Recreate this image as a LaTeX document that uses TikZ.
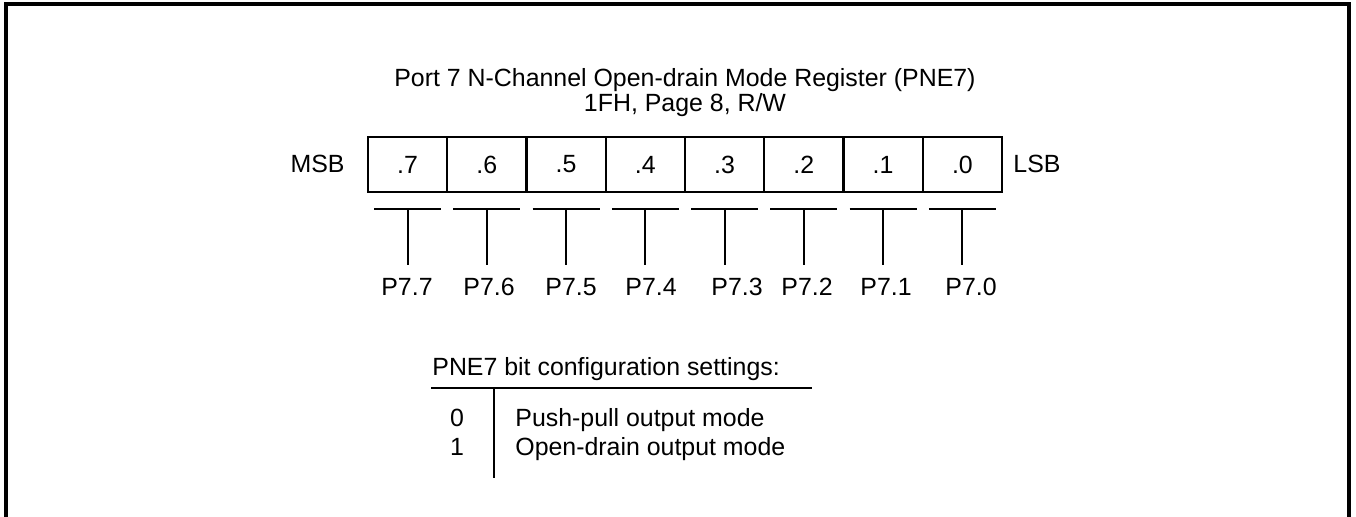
\documentclass[tikz,border=0pt]{standalone}
\usepackage{fontspec}
\setmainfont{Liberation Sans}
\usetikzlibrary{positioning,calc}

\begin{document}
\begin{tikzpicture}[
    x=0.5pt, y=-0.5pt,
    txt/.style={font=\fontsize{12.45}{15}\selectfont, inner sep=0pt},
    bitcell/.style={rectangle, draw=black, line width=1pt, minimum width=39.6pt, minimum height=27.5pt, inner sep=0pt, font=\fontsize{12.45}{15}\selectfont},
    tick/.style={line width=1pt, black},
    frame/.style={line width=1.6pt, black},
]
    \useasboundingbox (0,0) rectangle (1356,517);

    % Outer frame (open at the bottom)
    \draw[frame] (6,520) -- (6,4) -- (1349,4) -- (1349,520);

    % Title
    \node[txt, anchor=base] (title) at (685,86.5) {Port 7 N-Channel Open-drain Mode Register (PNE7)};
    \node[txt, anchor=base] (addr) at (685,111.5) {1FH, Page 8, R/W};

    % Register cells
    \foreach \b [count=\k from 0] in {7,6,5,4,3,2,1,0} {
        \node[bitcell] (c\b) at ({368+79.25*(\k+0.5)},164.5) {.\b};
    }
    \node[txt, anchor=east] (msb) at (345,164) {MSB};
    \node[txt, anchor=west] (lsb) at (1013,164) {LSB};

    % Bit outputs
    \foreach \b/\px in {7/407,6/489,5/571,4/651,3/737,2/807,1/886,0/971} {
        \coordinate (bl\b) at ($(c\b.south west)+(7,16)$);
        \coordinate (br\b) at ($(c\b.south east)+(-7,16)$);
        \coordinate (bm\b) at ($(c\b.south)+(0,16)$);
        \coordinate (be\b) at ($(c\b.south)+(0,72)$);
        \node[txt, anchor=base] (p\b) at (\px,296) {P7.\b};
        \draw[tick] (bl\b) -- (br\b);
        \draw[tick] (bm\b) -- (be\b);
    }

    % Configuration settings
    \node[txt, anchor=base west] (cfg) at (432,376) {PNE7 bit configuration settings:};
    \coordinate (rl) at (431,388);
    \coordinate (rr) at (812,388);
    \coordinate (vt) at (494,388);
    \coordinate (vb) at (494,478);
    \draw[tick] (rl) -- (rr);
    \draw[tick] (vt) -- (vb);
    \node[txt, anchor=base] (v0) at (457,427) {0};
    \node[txt, anchor=base] (v1) at (457,456) {1};
    \node[txt, anchor=base west] (d0) at (515,427) {Push-pull output mode};
    \node[txt, anchor=base west] (d1) at (515,456) {Open-drain output mode};
\end{tikzpicture}
\end{document}
